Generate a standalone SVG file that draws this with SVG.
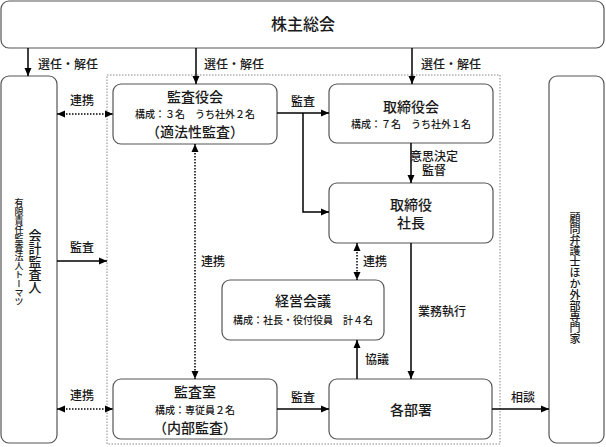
<svg xmlns="http://www.w3.org/2000/svg" width="606" height="447" viewBox="0 0 606 447">
<defs>
<marker id="ah" viewBox="0 0 8 8" refX="8" refY="4" markerWidth="8" markerHeight="8" markerUnits="userSpaceOnUse" orient="auto-start-reverse">
<path d="M0,0.5 L8,4 L0,7.5 Z" fill="#000"/>
</marker>
</defs>
<style>
.box{fill:#fff;stroke:#555;stroke-width:1.2}
.region{fill:none;stroke:#888;stroke-width:1;stroke-dasharray:1.5 1.5}
.ln{fill:none;stroke:#000;stroke-width:1.5}
.dot{fill:none;stroke:#000;stroke-width:1.5;stroke-dasharray:1.5 1.5}
text{font-family:"Noto Sans CJK JP","Noto Sans CJK SC",sans-serif;fill:#1a1a1a;text-anchor:middle;font-weight:500}
.t{font-size:14px}
.big{font-size:16px}
.s{font-size:10px}
.lb{font-size:12px}
.v{writing-mode:vertical-rl}
</style>
<rect class="region" x="107" y="75" width="393" height="369"/>
<g id="shareholders">
<rect class="box" x="1" y="1" width="603" height="47" rx="8"/>
<text class="big" x="303" y="30">株主総会</text>
</g>
<g id="auditor">
<rect class="box" x="1" y="76" width="56" height="367" rx="8"/>
<text class="t v" x="35" y="261" style="font-size:13px">会計監査人</text>
<text class="v" x="19" y="252" style="font-size:9px">有限責任監査法人トーマツ</text>
</g>
<g id="experts">
<rect class="box" x="549" y="76" width="55" height="367" rx="8"/>
<text class="v" x="575" y="278" style="font-size:11px">顧問弁護士ほか外部専門家</text>
</g>
<g id="kansayakukai">
<rect class="box" x="113" y="84" width="164" height="60" rx="8"/>
<text class="t" x="195" y="102">監査役会</text>
<text class="s" x="195" y="118">構成：３名　うち社外２名</text>
<text class="t" x="195" y="137">（適法性監査）</text>
</g>
<g id="torishimariyakukai">
<rect class="box" x="329" y="84" width="164" height="59" rx="8"/>
<text class="t" x="411" y="112">取締役会</text>
<text class="s" x="411" y="128">構成：７名　うち社外１名</text>
</g>
<g id="president">
<rect class="box" x="329" y="183" width="164" height="60" rx="8"/>
<text class="t" x="411" y="210">取締役<tspan x="411" dy="18">社長</tspan></text>
</g>
<g id="keieikaigi">
<rect class="box" x="222" y="280" width="162" height="60" rx="8"/>
<text class="t" x="303" y="306">経営会議</text>
<text class="s" x="303" y="324">構成：社長・役付役員　計４名</text>
</g>
<g id="kansashitsu">
<rect class="box" x="113" y="379" width="164" height="60" rx="8"/>
<text class="t" x="195" y="397">監査室</text>
<text class="s" x="195" y="414">構成：専従員２名</text>
<text class="t" x="195" y="433">（内部監査）</text>
</g>
<g id="kakubusho">
<rect class="box" x="329" y="379" width="163" height="60" rx="8"/>
<text class="t" x="411" y="415">各部署</text>
</g>
<g id="connectors">
<line class="ln" x1="28" y1="48" x2="28" y2="76" marker-end="url(#ah)"/>
<line class="ln" x1="196" y1="48" x2="196" y2="84" marker-end="url(#ah)"/>
<line class="ln" x1="412" y1="48" x2="412" y2="84" marker-end="url(#ah)"/>
<line class="dot" x1="57" y1="114" x2="113" y2="114" marker-start="url(#ah)" marker-end="url(#ah)"/>
<line class="ln" x1="57" y1="261" x2="107" y2="261" marker-end="url(#ah)"/>
<line class="dot" x1="57" y1="409" x2="113" y2="409" marker-start="url(#ah)" marker-end="url(#ah)"/>
<line class="ln" x1="277" y1="113" x2="329" y2="113" marker-end="url(#ah)"/>
<polyline class="ln" points="303,113 303,212 329,212" marker-end="url(#ah)"/>
<line class="ln" x1="411" y1="143" x2="411" y2="183" marker-end="url(#ah)"/>
<line class="dot" x1="195" y1="144" x2="195" y2="379" marker-start="url(#ah)" marker-end="url(#ah)"/>
<line class="dot" x1="357" y1="243" x2="357" y2="280" marker-start="url(#ah)" marker-end="url(#ah)"/>
<line class="ln" x1="411" y1="243" x2="411" y2="379" marker-end="url(#ah)"/>
<line class="ln" x1="357" y1="379" x2="357" y2="340" marker-end="url(#ah)"/>
<line class="ln" x1="277" y1="409" x2="329" y2="409" marker-end="url(#ah)"/>
<line class="ln" x1="492" y1="409" x2="549" y2="409" marker-end="url(#ah)"/>
</g>
<g id="labels">
<text class="lb" x="68" y="69">選任・解任</text>
<text class="lb" x="234" y="69">選任・解任</text>
<text class="lb" x="451" y="69">選任・解任</text>
<text class="lb" x="82" y="105">連携</text>
<text class="lb" x="82" y="252">監査</text>
<text class="lb" x="82" y="400">連携</text>
<text class="lb" x="303" y="106">監査</text>
<text class="lb" x="434" y="161">意思決定<tspan x="434" dy="14">監督</tspan></text>
<text class="lb" x="213" y="266">連携</text>
<text class="lb" x="375" y="266">連携</text>
<text class="lb" x="442" y="316">業務執行</text>
<text class="lb" x="377" y="364">協議</text>
<text class="lb" x="303" y="402">監査</text>
<text class="lb" x="523" y="402">相談</text>
</g>
</svg>
